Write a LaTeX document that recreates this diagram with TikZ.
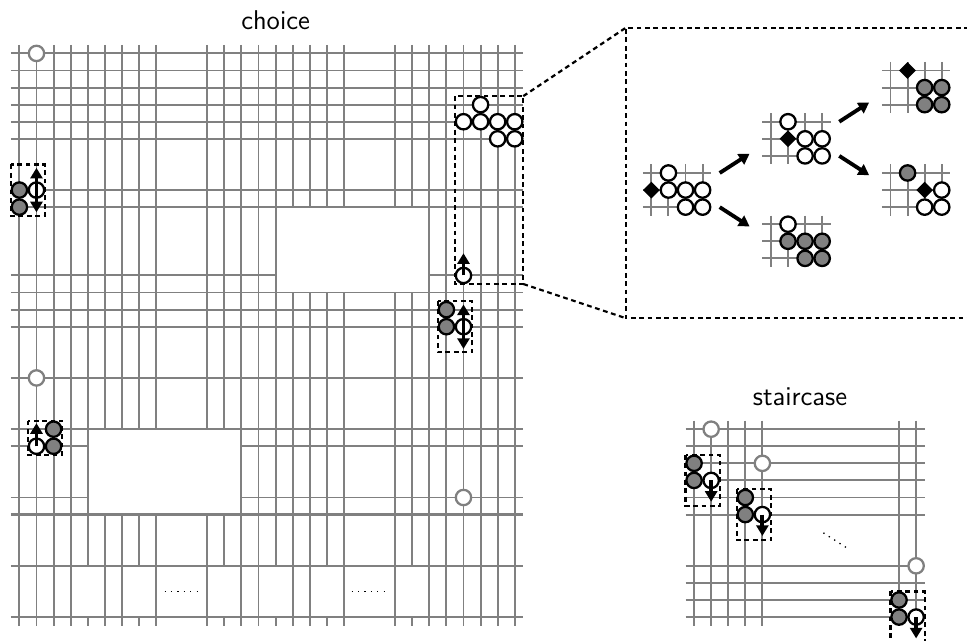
\documentclass[tikz,border=0pt]{standalone}
\usepackage{tikz}
\usetikzlibrary{arrows,arrows.meta,shapes,positioning}

\begin{document}
\begin{tikzpicture}[x=0.25cm,y=-0.25cm,
    wire/.style={draw=gray,line width=0.8pt},
    openvar/.style={circle,draw=black,fill=white,line width=0.95pt,minimum size=0.225cm,inner sep=0pt},
    fixedvar/.style={circle,draw=black,fill=gray,line width=0.95pt,minimum size=0.225cm,inner sep=0pt},
    freevar/.style={circle,draw=gray,fill=white,line width=0.95pt,minimum size=0.225cm,inner sep=0pt},
    chosen/.style={diamond,fill=black,minimum size=0.25cm,inner sep=0pt},
    move/.style={-{Triangle[length=4.4pt,width=5pt]},line width=1.6pt},
    bothways/.style={{Triangle[length=4.4pt,width=5pt]}-{Triangle[length=4.4pt,width=5pt]},line width=1.6pt},
    frame/.style={draw=black,line width=0.9pt,dash pattern=on 2pt off 1.5pt},
    dots/.style={line width=0.55pt,dash pattern=on 0.55pt off 2.11pt},
    heading/.style={font=\sffamily\fontsize{11.3}{13}\selectfont}]
\clip (-1.136,-3.127) rectangle (55.48,34.4);

% Titles
\node[heading] (choicetitle) at (15,-1.95) {choice};
\node[heading] (stairtitle) at (45.7,20.1) {staircase};

% Choice grid: columns
\foreach \x in {0,1,2,3,13,14,24,25,26,27,28,29}
  \draw[wire] (\x,-0.5) -- (\x,33.5);
\foreach \x in {4,15} {
  \draw[wire] (\x,-0.5) -- (\x,30);
  \draw[wire] (\x,33) -- (\x,33.5);
}
\foreach \x in {5,6,8,11} {
  \draw[wire] (\x,-0.5) -- (\x,22);
  \draw[wire] (\x,27) -- (\x,33.5);
}
\foreach \x in {7,12} {
  \draw[wire] (\x,-0.5) -- (\x,22);
  \draw[wire] (\x,27) -- (\x,30);
  \draw[wire] (\x,33) -- (\x,33.5);
}
\foreach \x in {16,17,19,22} {
  \draw[wire] (\x,-0.5) -- (\x,9);
  \draw[wire] (\x,14) -- (\x,33.5);
}
\foreach \x in {18,23} {
  \draw[wire] (\x,-0.5) -- (\x,9);
  \draw[wire] (\x,14) -- (\x,30);
  \draw[wire] (\x,33) -- (\x,33.5);
}

% Choice grid: rows
\foreach \y in {0,1,2,3,4,5,8,9,14,15,16,19,22,30,33}
  \draw[wire] (-0.5,\y) -- (29.5,\y);
\draw[wire,line width=1.2pt] (-0.5,27) -- (29.5,27);
\draw[wire] (-0.5,13) -- (15,13);
\draw[wire] (24,13) -- (29.5,13);
\foreach \y in {23,26} {
  \draw[wire] (-0.5,\y) -- (4,\y);
  \draw[wire] (13,\y) -- (29.5,\y);
}

% Choice grid: gaps
\draw[dots] (8.5,31.5) -- (10.45,31.5);
\draw[dots] (19.45,31.5) -- (21.4,31.5);

% Choice grid: free variables
\node[freevar] (freeA) at (1,0) {};
\node[freevar] (freeB) at (1,19) {};
\node[freevar] (freeC) at (26,26) {};

% Choice grid: gadgets
\foreach \x/\y in {0/8,0/9,25/15,25/16,2/22,2/23}
  \node[fixedvar] (fix\x-\y) at (\x,\y) {};
\foreach \x/\y in {1/8,26/16,1/23,26/13,26/4,27/3,27/4,28/4,29/4,28/5,29/5}
  \node[openvar] (var\x-\y) at (\x,\y) {};

\coordinate (leftup) at (1,6.7);
\coordinate (leftdown) at (1,9.3);
\coordinate (midup) at (26,14.7);
\coordinate (middown) at (26,17.3);
\coordinate (lowup) at (1,21.65);
\coordinate (topup) at (26,11.7);
\draw[bothways] (leftup) -- (leftdown);
\draw[bothways] (midup) -- (middown);
\draw[move] (var1-23.center) -- (lowup);
\draw[move] (var26-13.center) -- (topup);

\draw[frame] (-0.5,6.5) rectangle (1.5,9.5);
\draw[frame] (24.5,14.5) rectangle (26.5,17.5);
\draw[frame] (0.5,21.5) rectangle (2.5,23.5);
\draw[frame] (25.5,2.5) rectangle (29.5,13.5);

% Blow-up
\coordinate (boxne) at (29.5,2.5);
\coordinate (boxse) at (29.5,13.5);
\coordinate (zoomnw) at (35.5,-1.5);
\coordinate (zoomsw) at (35.5,15.5);
\coordinate (zoomne) at (55.6,-1.5);
\coordinate (zoomse) at (55.6,15.5);
\draw[frame] (boxne) -- (zoomnw);
\draw[frame] (boxse) -- (zoomsw);
\draw[frame] (zoomne) -- (zoomnw) -- (zoomsw) -- (zoomse);

\foreach \ox/\oy in {37/7,44/4,44/10,51/1,51/7} {
  \foreach \dx in {0,1,2,3}
    \draw[wire] ({\ox+\dx},\oy-0.5) -- ({\ox+\dx},\oy+2.5);
  \foreach \dy in {0,1,2}
    \draw[wire] (\ox-0.5,{\oy+\dy}) -- (\ox+3.5,{\oy+\dy});
}

\foreach \x/\y in {38/7,38/8,39/8,40/8,39/9,40/9,45/4,46/5,47/5,46/6,47/6,45/10,54/8,53/9,54/9}
  \node[openvar] (var\x-\y) at (\x,\y) {};
\foreach \x/\y in {45/11,46/11,47/11,46/12,47/12,53/2,54/2,53/3,54/3,52/7}
  \node[fixedvar] (fix\x-\y) at (\x,\y) {};
\node[chosen] (pickA) at (37,8) {};
\node[chosen] (pickB) at (45,5) {};
\node[chosen] (pickC) at (52,1) {};
\node[chosen] (pickD) at (53,8) {};

\coordinate (aup) at (41,7);
\coordinate (adown) at (41,9);
\coordinate (bin) at (42.75,5.87);
\coordinate (cin) at (42.75,10.13);
\coordinate (bup) at (48,4);
\coordinate (bdown) at (48,6);
\coordinate (din) at (49.75,2.87);
\coordinate (ein) at (49.75,7.13);
\draw[move] (aup) -- (bin);
\draw[move] (adown) -- (cin);
\draw[move] (bup) -- (din);
\draw[move] (bdown) -- (ein);

% Staircase grid
\foreach \x in {39.5,40.5,41.5,42.5,43.5,51.5,52.5}
  \draw[wire] (\x,21.5) -- (\x,33.5);
\foreach \y in {22,23,24,25,26,27,30,31,32,33}
  \draw[wire] (39,\y) -- (53,\y);
\draw[dots] (47.07,28.07) -- (48.44,28.95);

\node[freevar] (freeD) at (40.5,22) {};
\node[freevar] (freeE) at (43.5,24) {};
\node[freevar] (freeF) at (52.5,30) {};

\foreach \x/\y in {39.5/24,39.5/25,42.5/26,42.5/27,51.5/32,51.5/33}
  \node[fixedvar] (fix\x-\y) at (\x,\y) {};
\node[openvar] (stepA) at (40.5,25) {};
\node[openvar] (stepB) at (43.5,27) {};
\node[openvar] (stepC) at (52.5,33) {};

\coordinate (stepAend) at (40.5,26.25);
\coordinate (stepBend) at (43.5,28.25);
\coordinate (stepCend) at (52.5,34.25);
\draw[move] (stepA.center) -- (stepAend);
\draw[move] (stepB.center) -- (stepBend);
\draw[move] (stepC.center) -- (stepCend);

\draw[frame] (39,23.5) rectangle (41,26.5);
\draw[frame] (42,25.5) rectangle (44,28.5);
\draw[frame] (51,31.5) rectangle (53,34.5);

\end{tikzpicture}
\end{document}
